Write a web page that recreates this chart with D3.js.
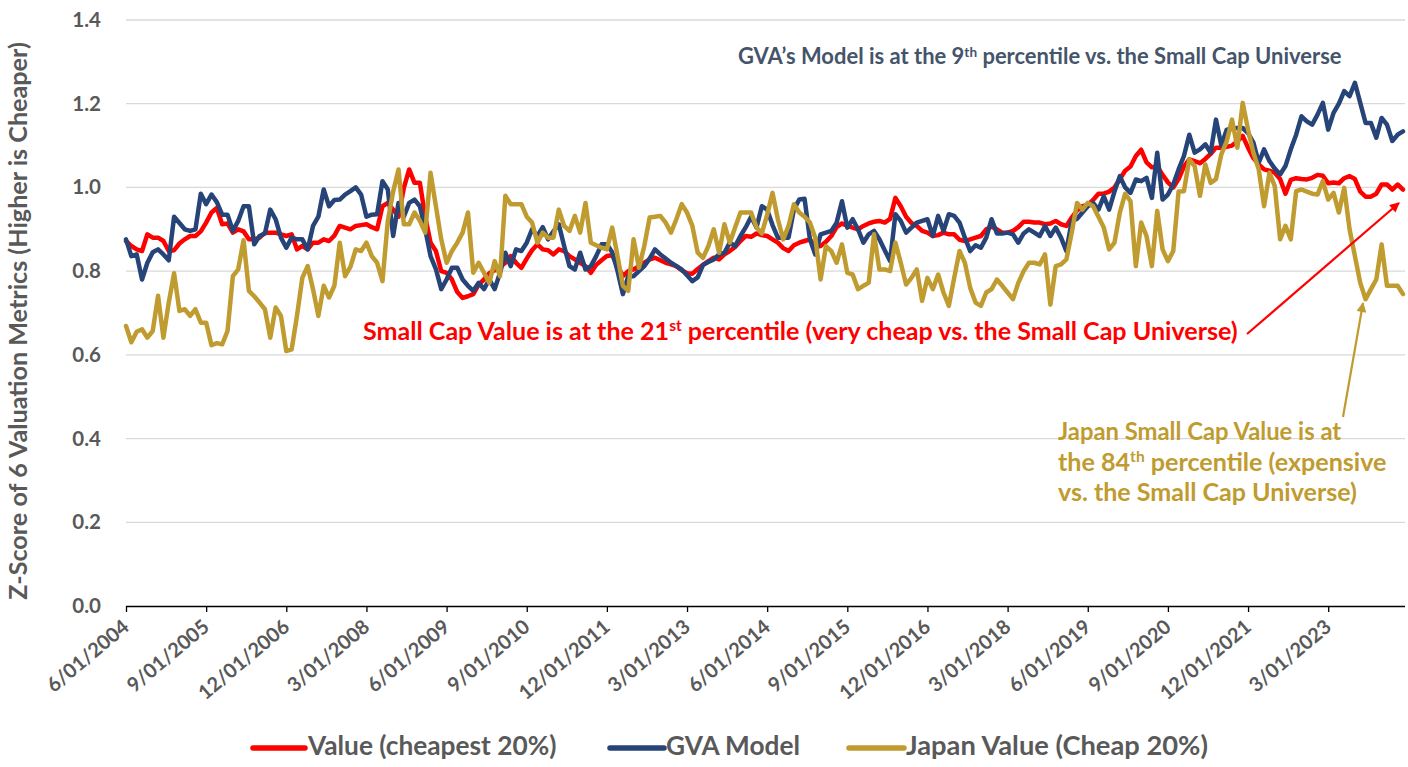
<!DOCTYPE html>
<html><head><meta charset="utf-8">
<script src="https://cdn.jsdelivr.net/npm/d3@7"></script>
<style>
body{margin:0;background:#fff}
svg{display:block}
text{font-family:Lato,"Open Sans",sans-serif;font-weight:bold}
</style>
</head><body>
<svg id="chart" width="1408" height="767"></svg>
<script>
// ---------- DATA ----------
const startMonth = "2004-06-01";
const tickLabels = ["6/01/2004","9/01/2005","12/01/2006","3/01/2008","6/01/2009","9/01/2010","12/01/2011","3/01/2013","6/01/2014","9/01/2015","12/01/2016","3/01/2018","6/01/2019","9/01/2020","12/01/2021","3/01/2023"];
const yTicks = [0,0.2,0.4,0.6,0.8,1.0,1.2,1.4];
const seriesNames = ["Value (cheapest 20%)","GVA Model","Japan Value (Cheap 20%)"];

const valueSeries = [
0.872,0.860,0.852,0.848,0.888,0.880,0.880,0.872,0.848,0.850,
0.866,0.876,0.884,0.884,0.895,0.916,0.940,0.951,0.912,0.914,
0.892,0.900,0.895,0.876,0.876,0.880,0.892,0.892,0.892,0.888,
0.884,0.888,0.852,0.860,0.852,0.868,0.868,0.876,0.872,0.885,
0.908,0.904,0.900,0.908,0.910,0.912,0.905,0.900,0.955,0.963,
0.947,0.930,0.999,1.043,1.011,1.011,0.930,0.868,0.848,0.800,
0.796,0.780,0.750,0.736,0.740,0.745,0.768,0.780,0.795,0.802,
0.810,0.820,0.836,0.820,0.808,0.830,0.850,0.864,0.852,0.850,
0.840,0.852,0.848,0.836,0.828,0.820,0.812,0.796,0.815,0.826,
0.836,0.838,0.812,0.788,0.800,0.804,0.812,0.820,0.828,0.832,
0.826,0.820,0.816,0.812,0.802,0.795,0.794,0.805,0.815,0.824,
0.832,0.828,0.840,0.848,0.858,0.872,0.884,0.882,0.890,0.886,
0.884,0.876,0.868,0.855,0.848,0.862,0.868,0.872,0.876,0.858,
0.860,0.870,0.884,0.905,0.914,0.908,0.904,0.900,0.908,0.914,
0.918,0.920,0.916,0.925,0.975,0.955,0.930,0.915,0.908,0.896,
0.892,0.884,0.886,0.892,0.888,0.888,0.875,0.872,0.876,0.880,
0.884,0.900,0.906,0.900,0.892,0.892,0.896,0.905,0.918,0.918,
0.916,0.916,0.912,0.914,0.920,0.912,0.908,0.928,0.945,0.955,
0.958,0.970,0.985,0.985,0.990,1.000,1.020,1.040,1.050,1.075,
1.090,1.060,1.048,1.051,1.030,1.012,1.000,1.020,1.050,1.067,
1.063,1.058,1.068,1.080,1.095,1.095,1.097,1.100,1.110,1.123,
1.095,1.070,1.055,1.043,1.040,1.035,1.020,0.985,1.018,1.022,
1.020,1.019,1.023,1.030,1.028,1.010,1.012,1.010,1.022,1.027,
1.020,0.990,0.978,0.978,0.985,1.007,1.007,0.995,1.007,0.995];

const gvaSeries = [
0.876,0.836,0.840,0.780,0.820,0.845,0.852,0.840,0.826,0.930,
0.915,0.900,0.896,0.900,0.985,0.960,0.983,0.965,0.935,0.935,
0.896,0.920,0.955,0.955,0.864,0.884,0.890,0.947,0.924,0.880,
0.856,0.880,0.876,0.876,0.852,0.908,0.930,0.995,0.955,0.970,
0.971,0.983,0.991,1.000,0.983,0.930,0.935,0.936,1.015,0.995,
0.884,0.963,0.930,0.963,0.971,0.955,0.900,0.836,0.805,0.757,
0.780,0.808,0.808,0.780,0.765,0.753,0.772,0.757,0.780,0.757,
0.796,0.844,0.812,0.852,0.848,0.868,0.900,0.884,0.905,0.876,
0.895,0.912,0.860,0.812,0.804,0.844,0.804,0.812,0.836,0.864,
0.864,0.845,0.800,0.745,0.788,0.788,0.800,0.812,0.830,0.852,
0.840,0.830,0.820,0.812,0.804,0.790,0.776,0.785,0.815,0.822,
0.828,0.840,0.844,0.868,0.860,0.884,0.905,0.930,0.904,0.955,
0.947,0.910,0.880,0.880,0.880,0.947,0.971,0.973,0.876,0.840,
0.888,0.892,0.896,0.916,0.967,0.904,0.924,0.900,0.868,0.888,
0.896,0.876,0.850,0.824,0.936,0.920,0.892,0.904,0.916,0.920,
0.924,0.884,0.932,0.896,0.936,0.932,0.916,0.880,0.848,0.862,
0.856,0.880,0.924,0.890,0.890,0.892,0.888,0.868,0.890,0.900,
0.892,0.884,0.908,0.884,0.904,0.880,0.848,0.920,0.925,0.940,
0.955,0.963,0.947,0.979,0.947,0.990,1.027,1.000,0.987,1.019,
1.015,1.023,0.975,1.083,0.971,0.983,1.007,1.043,1.075,1.126,
1.083,1.091,1.103,1.083,1.162,1.100,1.138,1.140,1.142,1.142,
1.130,1.107,1.059,1.091,1.063,1.045,1.031,1.051,1.091,1.126,
1.170,1.158,1.150,1.174,1.202,1.138,1.178,1.200,1.230,1.218,
1.250,1.202,1.154,1.154,1.119,1.166,1.150,1.111,1.126,1.134];

const japanSeries = [
0.669,0.630,0.655,0.661,0.641,0.657,0.741,0.641,0.725,0.795,
0.705,0.709,0.693,0.709,0.677,0.677,0.623,0.628,0.625,0.657,
0.788,0.804,0.874,0.753,0.740,0.725,0.709,0.641,0.713,0.693,
0.609,0.613,0.693,0.784,0.812,0.757,0.693,0.765,0.737,0.765,
0.868,0.788,0.810,0.852,0.848,0.868,0.836,0.820,0.776,0.920,
0.990,1.043,0.912,0.912,0.940,0.920,0.892,1.035,0.955,0.876,
0.820,0.848,0.868,0.892,0.940,0.796,0.820,0.796,0.772,0.824,
0.788,0.980,0.960,0.960,0.960,0.930,0.916,0.868,0.892,0.880,
0.880,0.947,0.908,0.896,0.932,0.892,0.963,0.868,0.862,0.856,
0.852,0.904,0.836,0.765,0.753,0.876,0.808,0.860,0.928,0.930,
0.932,0.916,0.892,0.924,0.960,0.940,0.908,0.844,0.832,0.860,
0.900,0.844,0.912,0.868,0.904,0.940,0.940,0.940,0.905,0.890,
0.935,0.987,0.924,0.876,0.908,0.960,0.940,0.930,0.916,0.880,
0.780,0.860,0.848,0.820,0.864,0.796,0.792,0.757,0.765,0.772,
0.888,0.804,0.804,0.800,0.868,0.820,0.768,0.784,0.804,0.729,
0.784,0.757,0.792,0.749,0.717,0.784,0.848,0.820,0.760,0.725,
0.717,0.749,0.757,0.780,0.765,0.749,0.733,0.772,0.800,0.820,
0.820,0.816,0.840,0.720,0.812,0.816,0.828,0.892,0.963,0.947,
0.963,0.955,0.930,0.904,0.852,0.868,0.940,0.985,0.967,0.812,
0.916,0.884,0.812,0.944,0.852,0.824,0.848,0.990,0.991,1.067,
1.051,0.980,1.055,1.011,1.020,1.079,1.110,1.162,1.095,1.202,
1.138,1.083,1.043,0.955,1.035,1.003,0.876,0.908,0.876,0.991,
0.995,0.990,0.985,0.983,1.015,0.971,0.987,0.940,0.999,0.900,
0.836,0.772,0.733,0.757,0.780,0.864,0.765,0.765,0.765,0.745];

// ---------- LAYOUT ----------
const mLeft = 126, mRight = 1403, mTop = 20, mBottom = 606, axisEnd = 1405;
const colors = {value:"#FF0000", gva:"#264478", japan:"#BF9B30", text:"#595959", title:"#44546A"};
const N = valueSeries.length;
const months = d3.range(N).map(i => d3.timeMonth.offset(new Date(startMonth + "T00:00:00"), i));

const svg = d3.select("#chart");
const x = d3.scaleLinear().domain([0, N - 1]).range([mLeft, mRight]);
const y = d3.scaleLinear().domain([0, 1.4]).range([mBottom, mTop]);

function fitWidth(sel, target){
  const fs = parseFloat(sel.attr("font-size"));
  const w = sel.node().getBBox().width;
  if (w > 0) sel.attr("font-size", (fs * target / w).toFixed(2));
}

// gridlines
svg.append("g").selectAll("line").data(yTicks.filter(d => d > 0)).join("line")
  .attr("x1", mLeft).attr("x2", axisEnd)
  .attr("y1", d => y(d)).attr("y2", d => y(d))
  .attr("stroke", "#D9D9D9").attr("stroke-width", 1.3);

// y tick labels
const yAxis = d3.axisLeft(y).tickValues(yTicks).tickFormat(d3.format(".1f")).tickSize(0).tickPadding(0);
const gy = svg.append("g").attr("transform", `translate(101,0)`).call(yAxis);
gy.select(".domain").remove();
gy.selectAll("text").attr("font-size", 20.5).attr("fill", colors.text)
  .attr("font-family", "Lato, 'Open Sans', sans-serif").attr("font-weight", "bold");

// x axis
const tickIdx = tickLabels.map((_, k) => k * 15);
const xAxis = d3.axisBottom(x).tickValues(tickIdx).tickFormat((d, k) => tickLabels[k]).tickSize(6).tickSizeOuter(0);
const gx = svg.append("g").attr("transform", `translate(0,${mBottom})`).call(xAxis);
gx.select(".domain").attr("d", `M${mLeft},0.5H${axisEnd}`).attr("stroke", "#000").attr("stroke-width", 1.3);
gx.selectAll(".tick line").attr("stroke", "#000").attr("stroke-width", 1.3);
gx.selectAll("text").attr("font-size", 20).attr("fill", colors.text)
  .attr("font-family", "Lato, 'Open Sans', sans-serif").attr("font-weight", "bold")
  .attr("text-anchor", "end").attr("dy", null).attr("y", 0)
  .attr("transform", "translate(4,23) rotate(-40)");

// lines
const line = d3.line().x((d, i) => x(i)).y(d => y(d)).curve(d3.curveLinear);
[[valueSeries, colors.value], [gvaSeries, colors.gva], [japanSeries, colors.japan]].forEach(([s, c]) => {
  svg.append("path").datum(s).attr("d", line).attr("fill", "none")
    .attr("stroke", c).attr("stroke-width", 4.5).attr("stroke-linejoin", "round").attr("stroke-linecap", "round");
});

// y axis title
const yt = svg.append("text").attr("transform", "translate(27,321) rotate(-90)")
  .attr("text-anchor", "middle").attr("font-size", 20).attr("fill", colors.text)
  .text("Z-Score of 6 Valuation Metrics (Higher is Cheaper)");
fitWidth(yt, 558);

// annotations
function supText(xp, yp, color, parts, target){
  const t = svg.append("text").attr("x", xp).attr("y", yp).attr("fill", color).attr("font-size", 20);
  parts.forEach(p => {
    if (p.sup) t.append("tspan").attr("font-size", "0.62em").attr("dy", "-0.55em").text(p.t);
    else if (p.after) t.append("tspan").attr("dy", "0.341em").text(p.t);
    else t.append("tspan").text(p.t);
  });
  if (target) fitWidth(t, target);
  return t;
}
supText(738, 64, colors.title, [{t:"GVA\u2019s Model is at the 9"},{t:"th",sup:true},{t:" percentile vs. the Small Cap Universe",after:true}], 604);
supText(363, 340, colors.value, [{t:"Small Cap Value is at the 21"},{t:"st",sup:true},{t:" percentile (very cheap vs. the Small Cap Universe)",after:true}], 875);
supText(1058, 440, colors.japan, [{t:"Japan Small Cap Value is at"}], 284);
supText(1058, 471, colors.japan, [{t:"the 84"},{t:"th",sup:true},{t:" percentile (expensive",after:true}], 329);
supText(1058, 501, colors.japan, [{t:"vs. the Small Cap Universe)"}], 299);

// arrows
const defs = svg.append("defs");
[["ar", colors.value], ["ag", colors.japan]].forEach(([id, c]) => {
  defs.append("marker").attr("id", id).attr("viewBox", "0 0 10 10").attr("refX", 9).attr("refY", 5)
    .attr("markerWidth", 5).attr("markerHeight", 4.5).attr("orient", "auto").attr("markerUnits", "strokeWidth")
    .append("path").attr("d", "M0,0L10,5L0,10Z").attr("fill", c);
});
svg.append("line").attr("x1", 1247).attr("y1", 334).attr("x2", 1399).attr("y2", 203)
  .attr("stroke", colors.value).attr("stroke-width", 2.2).attr("marker-end", "url(#ar)");
svg.append("line").attr("x1", 1343).attr("y1", 417).attr("x2", 1363).attr("y2", 303)
  .attr("stroke", colors.japan).attr("stroke-width", 2.2).attr("marker-end", "url(#ag)");

// legend
const legend = [
  {name: seriesNames[0], c: colors.value, x1: 253, x2: 305, tx: 308, tw: 250},
  {name: seriesNames[1], c: colors.gva, x1: 610, x2: 664, tx: 666, tw: 134},
  {name: seriesNames[2], c: colors.japan, x1: 849, x2: 904, tx: 906, tw: 302}
];
legend.forEach(l => {
  svg.append("line").attr("x1", l.x1).attr("x2", l.x2).attr("y1", 748).attr("y2", 748)
    .attr("stroke", l.c).attr("stroke-width", 5.5).attr("stroke-linecap", "round");
  const t = svg.append("text").attr("x", l.tx).attr("y", 755).attr("font-size", 19)
    .attr("fill", colors.text).text(l.name);
  fitWidth(t, l.tw);
});
</script>
</body></html>
